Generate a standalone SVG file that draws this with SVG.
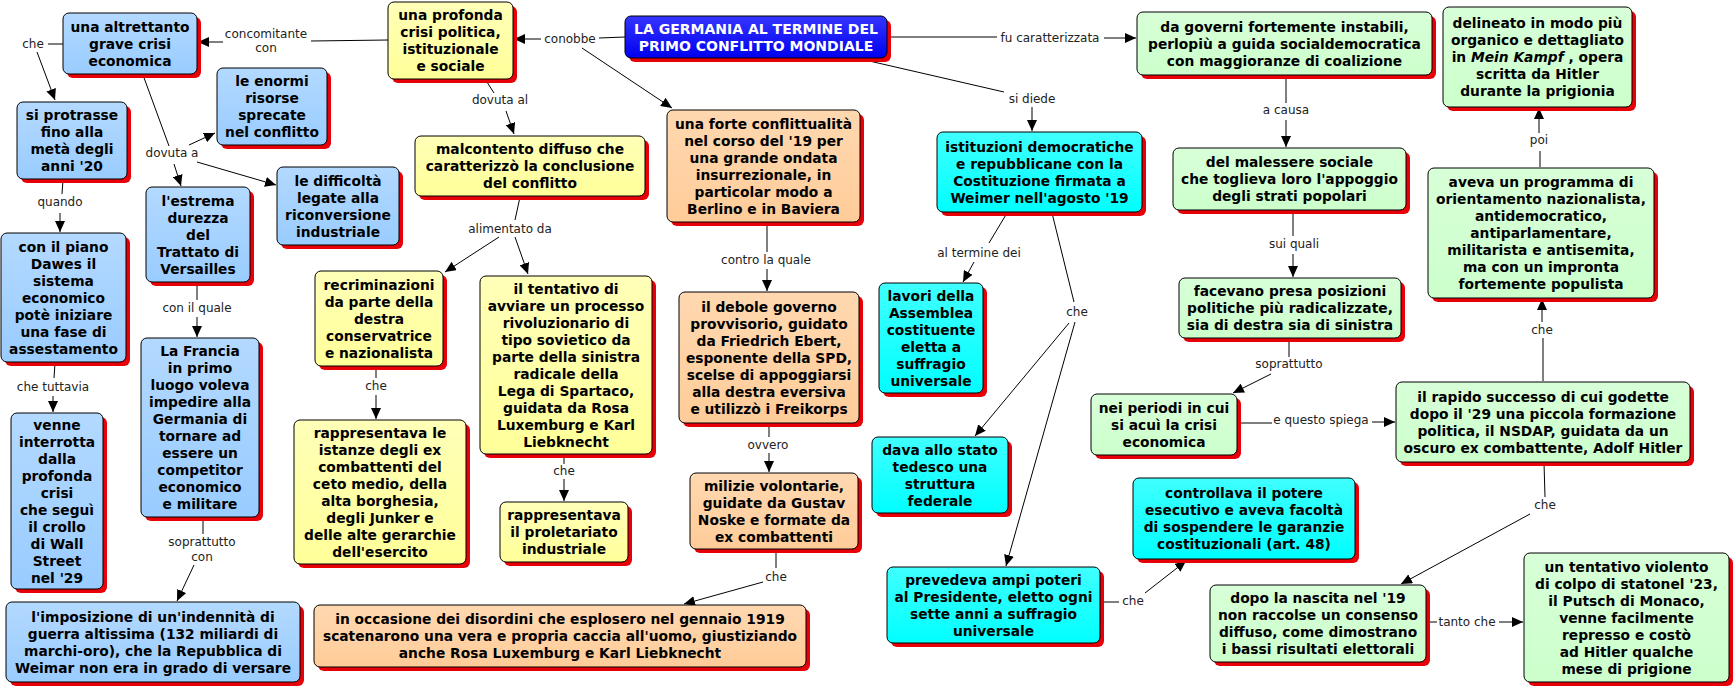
<svg xmlns="http://www.w3.org/2000/svg" width="1736" height="690" viewBox="0 0 1736 690">
<style>
.sh{fill:#e80008}
.nd{stroke:#000;stroke-width:1}
.t{font-family:"DejaVu Sans",Verdana,sans-serif;font-weight:bold;font-size:13.8px;text-anchor:middle;fill:#000}
.tw{font-family:"DejaVu Sans",Verdana,sans-serif;font-weight:bold;font-size:14px;text-anchor:middle;fill:#fff}
.lb{font-family:"DejaVu Sans",Verdana,sans-serif;font-size:12px;text-anchor:middle;fill:#222}
.ln{stroke:#000;stroke-width:1;fill:none}
.ar{marker-end:url(#ah)}
.b{fill:url(#gb)}.y{fill:url(#gy)}.o{fill:url(#go)}.c{fill:url(#gc)}.g{fill:url(#gg)}.k{fill:url(#gk)}
</style>
<defs>
<marker id="ah" markerUnits="userSpaceOnUse" markerWidth="12" markerHeight="10" refX="11" refY="5" orient="auto"><path d="M0,0 L11,5 L0,10 z" fill="#000"/></marker>
<linearGradient id="gb" x1="0" y1="0" x2="0" y2="1"><stop offset="0" stop-color="#b3d9ff"/><stop offset="1" stop-color="#99ccff"/></linearGradient>
<linearGradient id="gy" x1="0" y1="0" x2="0" y2="1"><stop offset="0" stop-color="#ffffb8"/><stop offset="1" stop-color="#ffff99"/></linearGradient>
<linearGradient id="go" x1="0" y1="0" x2="0" y2="1"><stop offset="0" stop-color="#ffd8b0"/><stop offset="1" stop-color="#ffcc99"/></linearGradient>
<linearGradient id="gc" x1="0" y1="0" x2="0" y2="1"><stop offset="0" stop-color="#40ffff"/><stop offset="1" stop-color="#00ffff"/></linearGradient>
<linearGradient id="gg" x1="0" y1="0" x2="0" y2="1"><stop offset="0" stop-color="#d8ffd8"/><stop offset="1" stop-color="#ccffcc"/></linearGradient>
<linearGradient id="gk" x1="0" y1="0" x2="0" y2="1"><stop offset="0" stop-color="#3535ff"/><stop offset="1" stop-color="#0000f0"/></linearGradient>
</defs>
<rect width="1736" height="690" fill="#fff"/>

<g id="connectors">
<path class="ln" d="M625,37 L599,38"/>
<path class="ln ar" d="M541,39 L514,39"/>
<path class="ln ar" d="M582,48 L672,108"/>
<text class="lb" x="570" y="43">conobbe</text>
<path class="ln" d="M887,37 L997,37"/>
<path class="ln ar" d="M1104,38 L1136,38"/>
<text class="lb" x="1050" y="42">fu caratterizzata</text>
<path class="ln" d="M865,60 L1004,92"/>
<path class="ln ar" d="M1032,107 L1032,131"/>
<text class="lb" x="1032" y="103">si diede</text>
<path class="ln" d="M388,40 L311,41"/>
<path class="ln ar" d="M223,42 L198,42"/>
<text class="lb" x="266" y="38">concomitante</text>
<text class="lb" x="266" y="52">con</text>
<path class="ln" d="M487,82 L494,93"/>
<path class="ln ar" d="M506,111 L514,134"/>
<text class="lb" x="500" y="104">dovuta al</text>
<path class="ln" d="M520,197 L515,220"/>
<path class="ln ar" d="M499,237 L445,272"/>
<path class="ln ar" d="M515,237 L528,274"/>
<text class="lb" x="510" y="233">alimentato da</text>
<path class="ln" d="M63,44 L48,44"/>
<path class="ln ar" d="M37,52 L55,100"/>
<text class="lb" x="33" y="48">che</text>
<path class="ln" d="M143,75 L169,146"/>
<path class="ln ar" d="M189,145 L215,133"/>
<path class="ln ar" d="M197,162 L276,185"/>
<path class="ln ar" d="M174,164 L181,186"/>
<text class="lb" x="172" y="157">dovuta a</text>
<path class="ln" d="M63,180 L62,194"/>
<path class="ln ar" d="M60,213 L60,232"/>
<text class="lb" x="60" y="206">quando</text>
<path class="ln" d="M55,363 L54,378"/>
<path class="ln ar" d="M53,396 L53,412"/>
<text class="lb" x="53" y="391">che tuttavia</text>
<path class="ln" d="M197,283 L197,300"/>
<path class="ln ar" d="M197,317 L197,337"/>
<text class="lb" x="197" y="312">con il quale</text>
<path class="ln" d="M203,518 L203,534"/>
<path class="ln ar" d="M194,565 L177,601"/>
<text class="lb" x="202" y="546">soprattutto</text>
<text class="lb" x="202" y="561">con</text>
<path class="ln" d="M376,367 L376,378"/>
<path class="ln ar" d="M376,395 L376,419"/>
<text class="lb" x="376" y="390">che</text>
<path class="ln" d="M564,455 L564,464"/>
<path class="ln ar" d="M564,479 L564,501"/>
<text class="lb" x="564" y="475">che</text>
<path class="ln" d="M767,223 L767,252"/>
<path class="ln ar" d="M767,269 L767,291"/>
<text class="lb" x="766" y="264">contro la quale</text>
<path class="ln" d="M769,424 L769,437"/>
<path class="ln ar" d="M769,453 L769,472"/>
<text class="lb" x="768" y="449">ovvero</text>
<path class="ln" d="M776,550 L776,568"/>
<path class="ln ar" d="M763,582 L684,604"/>
<text class="lb" x="776" y="581">che</text>
<path class="ln" d="M1007,213 L989,243"/>
<path class="ln ar" d="M974,262 L963,282"/>
<text class="lb" x="979" y="257">al termine dei</text>
<path class="ln" d="M1052,213 L1074,302"/>
<path class="ln ar" d="M1069,323 L975,436"/>
<path class="ln ar" d="M1075,322 L1006,566"/>
<text class="lb" x="1077" y="316">che</text>
<path class="ln" d="M1101,602 L1119,602"/>
<path class="ln ar" d="M1145,593 L1186,561"/>
<text class="lb" x="1133" y="605">che</text>
<path class="ln" d="M1286,76 L1286,103"/>
<path class="ln ar" d="M1286,120 L1286,147"/>
<text class="lb" x="1286" y="114">a causa</text>
<path class="ln" d="M1293,211 L1293,236"/>
<path class="ln ar" d="M1293,254 L1293,277"/>
<text class="lb" x="1294" y="248">sui quali</text>
<path class="ln" d="M1289,339 L1289,357"/>
<path class="ln ar" d="M1271,374 L1233,393"/>
<text class="lb" x="1289" y="368">soprattutto</text>
<path class="ln" d="M1238,423 L1272,423"/>
<path class="ln ar" d="M1372,422 L1395,422"/>
<text class="lb" x="1321" y="424">e questo spiega</text>
<path class="ln" d="M1543,381 L1543,338"/>
<path class="ln ar" d="M1542,322 L1542,299"/>
<text class="lb" x="1542" y="334">che</text>
<path class="ln" d="M1540,167 L1540,151"/>
<path class="ln ar" d="M1539,133 L1539,108"/>
<text class="lb" x="1539" y="144">poi</text>
<path class="ln" d="M1544,463 L1545,497"/>
<path class="ln ar" d="M1530,514 L1401,584"/>
<text class="lb" x="1545" y="509">che</text>
<path class="ln" d="M1427,622 L1437,622"/>
<path class="ln ar" d="M1499,622 L1523,622"/>
<text class="lb" x="1467" y="626">tanto che</text>
</g>

<g id="n1"><rect class="sh" x="629" y="20" width="262" height="42" rx="6"/><rect class="nd k" x="625" y="16" width="262" height="42" rx="6"/>
<text class="tw" y="33.5"><tspan x="756" dy="0">LA GERMANIA AL TERMINE DEL</tspan><tspan x="756" dy="17">PRIMO CONFLITTO MONDIALE</tspan></text></g>

<g id="n2"><rect class="sh" x="392" y="6" width="125" height="77" rx="6"/><rect class="nd y" x="388" y="2" width="125" height="77" rx="6"/>
<text class="t" y="20"><tspan x="450.5" dy="0">una profonda</tspan><tspan x="450.5" dy="17">crisi politica,</tspan><tspan x="450.5" dy="17">istituzionale</tspan><tspan x="450.5" dy="17">e sociale</tspan></text></g>

<g id="n3"><rect class="sh" x="67" y="17" width="134" height="61" rx="6"/><rect class="nd b" x="63" y="13" width="134" height="61" rx="6"/>
<text class="t" y="31.5"><tspan x="130" dy="0">una altrettanto</tspan><tspan x="130" dy="17">grave crisi</tspan><tspan x="130" dy="17">economica</tspan></text></g>

<g id="n4"><rect class="sh" x="221" y="72" width="110" height="77" rx="6"/><rect class="nd b" x="217" y="68" width="110" height="77" rx="6"/>
<text class="t" y="86"><tspan x="272" dy="0">le enormi</tspan><tspan x="272" dy="17">risorse</tspan><tspan x="272" dy="17">sprecate</tspan><tspan x="272" dy="17">nel conflitto</tspan></text></g>

<g id="n5"><rect class="sh" x="21" y="106" width="110" height="77" rx="6"/><rect class="nd b" x="17" y="102" width="110" height="77" rx="6"/>
<text class="t" y="120"><tspan x="72" dy="0">si protrasse</tspan><tspan x="72" dy="17">fino alla</tspan><tspan x="72" dy="17">metà degli</tspan><tspan x="72" dy="17">anni '20</tspan></text></g>

<g id="n6"><rect class="sh" x="281" y="171" width="122" height="78" rx="6"/><rect class="nd b" x="277" y="167" width="122" height="78" rx="6"/>
<text class="t" y="185.5"><tspan x="338" dy="0">le difficoltà</tspan><tspan x="338" dy="17">legate alla</tspan><tspan x="338" dy="17">riconversione</tspan><tspan x="338" dy="17">industriale</tspan></text></g>

<g id="n7"><rect class="sh" x="150" y="191" width="104" height="95" rx="6"/><rect class="nd b" x="146" y="187" width="104" height="95" rx="6"/>
<text class="t" y="205.5"><tspan x="198" dy="0">l'estrema</tspan><tspan x="198" dy="17">durezza</tspan><tspan x="198" dy="17">del</tspan><tspan x="198" dy="17">Trattato di</tspan><tspan x="198" dy="17">Versailles</tspan></text></g>

<g id="n8"><rect class="sh" x="5" y="237" width="125" height="129" rx="6"/><rect class="nd b" x="1" y="233" width="125" height="129" rx="6"/>
<text class="t" y="251.5"><tspan x="63.5" dy="0">con il piano</tspan><tspan x="63.5" dy="17">Dawes il</tspan><tspan x="63.5" dy="17">sistema</tspan><tspan x="63.5" dy="17">economico</tspan><tspan x="63.5" dy="17">potè iniziare</tspan><tspan x="63.5" dy="17">una fase di</tspan><tspan x="63.5" dy="17">assestamento</tspan></text></g>

<g id="n9"><rect class="sh" x="15" y="417" width="92" height="176" rx="6"/><rect class="nd b" x="11" y="413" width="92" height="176" rx="6"/>
<text class="t" y="429.5"><tspan x="57" dy="0">venne</tspan><tspan x="57" dy="17">interrotta</tspan><tspan x="57" dy="17">dalla</tspan><tspan x="57" dy="17">profonda</tspan><tspan x="57" dy="17">crisi</tspan><tspan x="57" dy="17">che seguì</tspan><tspan x="57" dy="17">il crollo</tspan><tspan x="57" dy="17">di Wall</tspan><tspan x="57" dy="17">Street</tspan><tspan x="57" dy="17">nel '29</tspan></text></g>

<g id="n10"><rect class="sh" x="145" y="342" width="118" height="179" rx="6"/><rect class="nd b" x="141" y="338" width="118" height="179" rx="6"/>
<text class="t" y="356"><tspan x="200" dy="0">La Francia</tspan><tspan x="200" dy="17">in primo</tspan><tspan x="200" dy="17">luogo voleva</tspan><tspan x="200" dy="17">impedire alla</tspan><tspan x="200" dy="17">Germania di</tspan><tspan x="200" dy="17">tornare ad</tspan><tspan x="200" dy="17">essere un</tspan><tspan x="200" dy="17">competitor</tspan><tspan x="200" dy="17">economico</tspan><tspan x="200" dy="17">e militare</tspan></text></g>

<g id="n11"><rect class="sh" x="10" y="606" width="294" height="80" rx="6"/><rect class="nd b" x="6" y="602" width="294" height="80" rx="6"/>
<text class="t" y="621.5"><tspan x="153" dy="0">l'imposizione di un'indennità di</tspan><tspan x="153" dy="17">guerra altissima (132 miliardi di</tspan><tspan x="153" dy="17">marchi-oro), che la Repubblica di</tspan><tspan x="153" dy="17">Weimar non era in grado di versare</tspan></text></g>

<g id="n12"><rect class="sh" x="419" y="140" width="230" height="60" rx="6"/><rect class="nd y" x="415" y="136" width="230" height="60" rx="6"/>
<text class="t" y="154"><tspan x="530" dy="0">malcontento diffuso che</tspan><tspan x="530" dy="17">caratterizzò la conclusione</tspan><tspan x="530" dy="17">del conflitto</tspan></text></g>

<g id="n13"><rect class="sh" x="319" y="275" width="128" height="95" rx="6"/><rect class="nd y" x="315" y="271" width="128" height="95" rx="6"/>
<text class="t" y="289.5"><tspan x="379" dy="0">recriminazioni</tspan><tspan x="379" dy="17">da parte della</tspan><tspan x="379" dy="17">destra</tspan><tspan x="379" dy="17">conservatrice</tspan><tspan x="379" dy="17">e nazionalista</tspan></text></g>

<g id="n14"><rect class="sh" x="298" y="424" width="172" height="144" rx="6"/><rect class="nd y" x="294" y="420" width="172" height="144" rx="6"/>
<text class="t" y="437.5"><tspan x="380" dy="0">rappresentava le</tspan><tspan x="380" dy="17">istanze degli ex</tspan><tspan x="380" dy="17">combattenti del</tspan><tspan x="380" dy="17">ceto medio, della</tspan><tspan x="380" dy="17">alta borghesia,</tspan><tspan x="380" dy="17">degli Junker e</tspan><tspan x="380" dy="17">delle alte gerarchie</tspan><tspan x="380" dy="17">dell'esercito</tspan></text></g>

<g id="n15"><rect class="sh" x="484" y="280" width="172" height="178" rx="6"/><rect class="nd y" x="480" y="276" width="172" height="178" rx="6"/>
<text class="t" y="293.5"><tspan x="566" dy="0">il tentativo di</tspan><tspan x="566" dy="17">avviare un processo</tspan><tspan x="566" dy="17">rivoluzionario di</tspan><tspan x="566" dy="17">tipo sovietico da</tspan><tspan x="566" dy="17">parte della sinistra</tspan><tspan x="566" dy="17">radicale della</tspan><tspan x="566" dy="17">Lega di Spartaco,</tspan><tspan x="566" dy="17">guidata da Rosa</tspan><tspan x="566" dy="17">Luxemburg e Karl</tspan><tspan x="566" dy="17">Liebknecht</tspan></text></g>

<g id="n16"><rect class="sh" x="504" y="506" width="128" height="60" rx="6"/><rect class="nd y" x="500" y="502" width="128" height="60" rx="6"/>
<text class="t" y="520"><tspan x="564" dy="0">rappresentava</tspan><tspan x="564" dy="17">il proletariato</tspan><tspan x="564" dy="17">industriale</tspan></text></g>

<g id="n17"><rect class="sh" x="671" y="114" width="193" height="112" rx="6"/><rect class="nd o" x="667" y="110" width="193" height="112" rx="6"/>
<text class="t" y="128.5"><tspan x="763.5" dy="0">una forte conflittualità</tspan><tspan x="763.5" dy="17">nel corso del '19 per</tspan><tspan x="763.5" dy="17">una grande ondata</tspan><tspan x="763.5" dy="17">insurrezionale, in</tspan><tspan x="763.5" dy="17">particolar modo a</tspan><tspan x="763.5" dy="17">Berlino e in Baviera</tspan></text></g>

<g id="n18"><rect class="sh" x="683" y="296" width="180" height="131" rx="6"/><rect class="nd o" x="679" y="292" width="180" height="131" rx="6"/>
<text class="t" y="311.5"><tspan x="769" dy="0">il debole governo</tspan><tspan x="769" dy="17">provvisorio, guidato</tspan><tspan x="769" dy="17">da Friedrich Ebert,</tspan><tspan x="769" dy="17">esponente della SPD,</tspan><tspan x="769" dy="17">scelse di appoggiarsi</tspan><tspan x="769" dy="17">alla destra eversiva</tspan><tspan x="769" dy="17">e utilizzò i Freikorps</tspan></text></g>

<g id="n19"><rect class="sh" x="694" y="477" width="168" height="76" rx="6"/><rect class="nd o" x="690" y="473" width="168" height="76" rx="6"/>
<text class="t" y="490.5"><tspan x="774" dy="0">milizie volontarie,</tspan><tspan x="774" dy="17">guidate da Gustav</tspan><tspan x="774" dy="17">Noske e formate da</tspan><tspan x="774" dy="17">ex combattenti</tspan></text></g>

<g id="n20"><rect class="sh" x="318" y="609" width="492" height="62" rx="6"/><rect class="nd o" x="314" y="605" width="492" height="62" rx="6"/>
<text class="t" y="624"><tspan x="560" dy="0">in occasione dei disordini che esplosero nel gennaio 1919</tspan><tspan x="560" dy="17">scatenarono una vera e propria caccia all'uomo, giustiziando</tspan><tspan x="560" dy="17">anche Rosa Luxemburg e Karl Liebknecht</tspan></text></g>

<g id="n21"><rect class="sh" x="941" y="136" width="205" height="80" rx="6"/><rect class="nd c" x="937" y="132" width="205" height="80" rx="6"/>
<text class="t" y="151.5"><tspan x="1039.5" dy="0">istituzioni democratiche</tspan><tspan x="1039.5" dy="17">e repubblicane con la</tspan><tspan x="1039.5" dy="17">Costituzione firmata a</tspan><tspan x="1039.5" dy="17">Weimer nell'agosto '19</tspan></text></g>

<g id="n22"><rect class="sh" x="883" y="287" width="104" height="110" rx="6"/><rect class="nd c" x="879" y="283" width="104" height="110" rx="6"/>
<text class="t" y="300.5"><tspan x="931" dy="0">lavori della</tspan><tspan x="931" dy="17">Assemblea</tspan><tspan x="931" dy="17">costituente</tspan><tspan x="931" dy="17">eletta a</tspan><tspan x="931" dy="17">suffragio</tspan><tspan x="931" dy="17">universale</tspan></text></g>

<g id="n23"><rect class="sh" x="876" y="441" width="136" height="76" rx="6"/><rect class="nd c" x="872" y="437" width="136" height="76" rx="6"/>
<text class="t" y="454.5"><tspan x="940" dy="0">dava allo stato</tspan><tspan x="940" dy="17">tedesco una</tspan><tspan x="940" dy="17">struttura</tspan><tspan x="940" dy="17">federale</tspan></text></g>

<g id="n24"><rect class="sh" x="891" y="571" width="213" height="76" rx="6"/><rect class="nd c" x="887" y="567" width="213" height="76" rx="6"/>
<text class="t" y="584.5"><tspan x="993.5" dy="0">prevedeva ampi poteri</tspan><tspan x="993.5" dy="17">al Presidente, eletto ogni</tspan><tspan x="993.5" dy="17">sette anni a suffragio</tspan><tspan x="993.5" dy="17">universale</tspan></text></g>

<g id="n25"><rect class="sh" x="1137" y="482" width="222" height="81" rx="6"/><rect class="nd c" x="1133" y="478" width="222" height="81" rx="6"/>
<text class="t" y="498"><tspan x="1244" dy="0">controllava il potere</tspan><tspan x="1244" dy="17">esecutivo e aveva facoltà</tspan><tspan x="1244" dy="17">di sospendere le garanzie</tspan><tspan x="1244" dy="17">costituzionali (art. 48)</tspan></text></g>

<g id="n26"><rect class="sh" x="1141" y="16" width="295" height="63" rx="6"/><rect class="nd g" x="1137" y="12" width="295" height="63" rx="6"/>
<text class="t" y="31.5"><tspan x="1284.5" dy="0">da governi fortemente instabili,</tspan><tspan x="1284.5" dy="17">perlopiù a guida socialdemocratica</tspan><tspan x="1284.5" dy="17">con maggioranze di coalizione</tspan></text></g>

<g id="n27"><rect class="sh" x="1177" y="152" width="233" height="62" rx="6"/><rect class="nd g" x="1173" y="148" width="233" height="62" rx="6"/>
<text class="t" y="167"><tspan x="1289.5" dy="0">del malessere sociale</tspan><tspan x="1289.5" dy="17">che toglieva loro l'appoggio</tspan><tspan x="1289.5" dy="17">degli strati popolari</tspan></text></g>

<g id="n28"><rect class="sh" x="1183" y="282" width="222" height="60" rx="6"/><rect class="nd g" x="1179" y="278" width="222" height="60" rx="6"/>
<text class="t" y="296"><tspan x="1290" dy="0">facevano presa posizioni</tspan><tspan x="1290" dy="17">politiche più radicalizzate,</tspan><tspan x="1290" dy="17">sia di destra sia di sinistra</tspan></text></g>

<g id="n29"><rect class="sh" x="1095" y="398" width="146" height="61" rx="6"/><rect class="nd g" x="1091" y="394" width="146" height="61" rx="6"/>
<text class="t" y="412.5"><tspan x="1164" dy="0">nei periodi in cui</tspan><tspan x="1164" dy="17">si acuì la crisi</tspan><tspan x="1164" dy="17">economica</tspan></text></g>

<g id="n30"><rect class="sh" x="1400" y="386" width="294" height="80" rx="6"/><rect class="nd g" x="1396" y="382" width="294" height="80" rx="6"/>
<text class="t" y="401.5"><tspan x="1543" dy="0">il rapido successo di cui godette</tspan><tspan x="1543" dy="17">dopo il '29 una piccola formazione</tspan><tspan x="1543" dy="17">politica, il NSDAP, guidata da un</tspan><tspan x="1543" dy="17">oscuro ex combattente, Adolf Hitler</tspan></text></g>

<g id="n31"><rect class="sh" x="1432" y="172" width="226" height="130" rx="6"/><rect class="nd g" x="1428" y="168" width="226" height="130" rx="6"/>
<text class="t" y="187"><tspan x="1541" dy="0">aveva un programma di</tspan><tspan x="1541" dy="17">orientamento nazionalista,</tspan><tspan x="1541" dy="17">antidemocratico,</tspan><tspan x="1541" dy="17">antiparlamentare,</tspan><tspan x="1541" dy="17">militarista e antisemita,</tspan><tspan x="1541" dy="17">ma con un impronta</tspan><tspan x="1541" dy="17">fortemente populista</tspan></text></g>

<g id="n32"><rect class="sh" x="1447" y="11" width="189" height="100" rx="6"/><rect class="nd g" x="1443" y="7" width="189" height="100" rx="6"/>
<text class="t" y="28"><tspan x="1537.5" dy="0">delineato in modo più</tspan><tspan x="1537.5" dy="17">organico e dettagliato</tspan><tspan x="1537.5" dy="17">in <tspan font-style="italic">Mein Kampf</tspan> , opera</tspan><tspan x="1537.5" dy="17">scritta da Hitler</tspan><tspan x="1537.5" dy="17">durante la prigionia</tspan></text></g>

<g id="n33"><rect class="sh" x="1214" y="589" width="216" height="77" rx="6"/><rect class="nd g" x="1210" y="585" width="216" height="77" rx="6"/>
<text class="t" y="603"><tspan x="1318" dy="0">dopo la nascita nel '19</tspan><tspan x="1318" dy="17">non raccolse un consenso</tspan><tspan x="1318" dy="17">diffuso, come dimostrano</tspan><tspan x="1318" dy="17">i bassi risultati elettorali</tspan></text></g>

<g id="n34"><rect class="sh" x="1528" y="557" width="205" height="129" rx="6"/><rect class="nd g" x="1524" y="553" width="205" height="129" rx="6"/>
<text class="t" y="571.5"><tspan x="1626.5" dy="0">un tentativo violento</tspan><tspan x="1626.5" dy="17">di colpo di statonel '23,</tspan><tspan x="1626.5" dy="17">il Putsch di Monaco,</tspan><tspan x="1626.5" dy="17">venne facilmente</tspan><tspan x="1626.5" dy="17">represso e costò</tspan><tspan x="1626.5" dy="17">ad Hitler qualche</tspan><tspan x="1626.5" dy="17">mese di prigione</tspan></text></g>
</svg>
